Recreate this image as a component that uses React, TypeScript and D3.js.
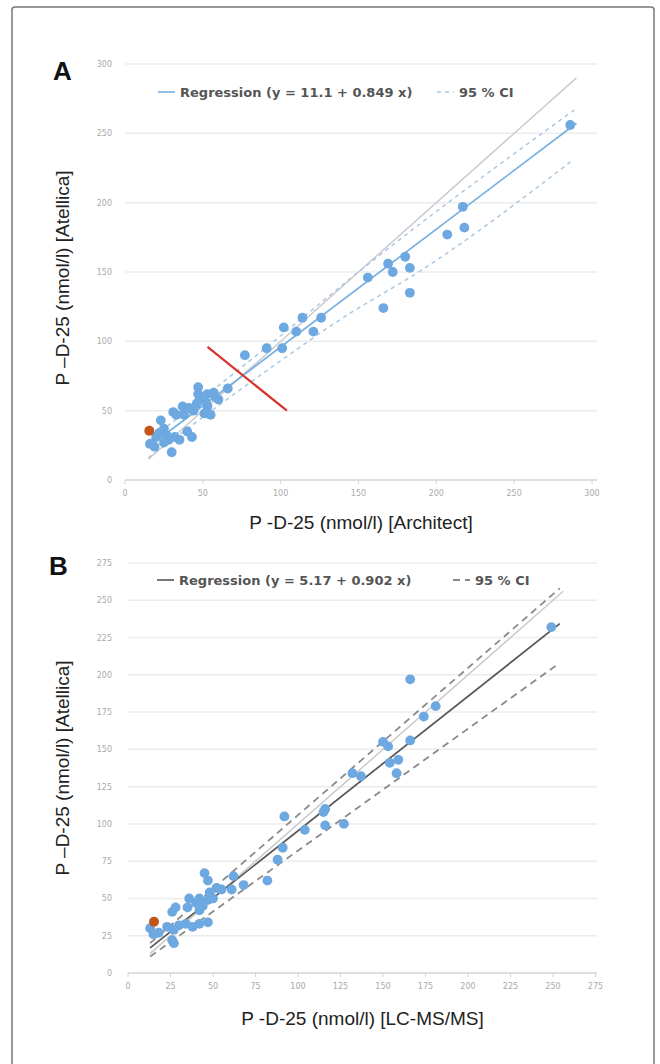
import React from 'react';
import * as d3 from 'd3';

// Panel A: Architect (x) vs Atellica (y)
const pointsA: [number, number][] = [
  [286, 256], [217, 197], [218, 182], [207, 177], [180, 161], [169, 156], [172, 150],
  [183, 153], [183, 135], [166, 124], [156, 146], [114, 117], [126, 117], [102, 110],
  [110, 107], [121, 107], [91, 95], [101, 95], [77, 90], [66, 66], [60, 58], [47, 67],
  [47, 62], [53, 62], [57, 63], [48, 58], [52, 56], [53, 53], [51, 48], [55, 47],
  [46, 55], [41, 52], [37, 53], [38, 47], [31, 49], [33, 47], [43, 31], [35, 29],
  [28, 29], [30, 20], [23, 43], [25, 37], [22, 34], [20, 31], [27, 32], [16, 26],
  [19, 24], [25, 27], [32, 31], [40, 35], [58, 60], [44, 50],
];
const outlierA: [number, number] = [15.6, 35.5];
const regressionA: [number, number][] = [[15, 23.8], [290, 257.3]];
const identityA: [number, number][] = [[15, 15], [290, 290]];
const ciUpperA: [number, number][] = [[15, 28], [100, 104], [150, 150], [290, 268]];
const ciLowerA: [number, number][] = [[15, 16], [100, 86], [140, 117], [190, 151], [288, 231]];
const redLineA: [number, number][] = [[53, 96], [104, 50]];
const ticksA = [0, 50, 100, 150, 200, 250, 300];

// Panel B: LC-MS/MS (x) vs Atellica (y)
const pointsB: [number, number][] = [
  [249, 232], [166, 197], [181, 179], [174, 172], [166, 156], [150, 155], [153, 152],
  [154, 141], [159, 143], [158, 134], [132, 134], [137, 132], [116, 110], [115, 108],
  [92, 105], [116, 99], [127, 100], [104, 96], [91, 84], [88, 76], [82, 62], [68, 59],
  [62, 65], [61, 56], [55, 56], [52, 57], [45, 67], [47, 62], [48, 54], [50, 50],
  [47, 49], [42, 50], [40, 47], [36, 50], [35, 44], [28, 44], [26, 41], [42, 42],
  [44, 45], [47, 34], [42, 33], [38, 31], [34, 33], [30, 32], [27, 29], [23, 31],
  [26, 22], [27, 20], [13, 30], [15, 26], [18, 27],
];
const outlierB: [number, number] = [15.3, 34.4];
const regressionB: [number, number][] = [[13, 16.9], [254, 234.3]];
const identityB: [number, number][] = [[13, 13], [256, 256]];
const ciUpperB: [number, number][] = [[13, 20], [254, 258]];
const ciLowerB: [number, number][] = [[13, 11], [254, 208]];
const ticksB = [0, 25, 50, 75, 100, 125, 150, 175, 200, 225, 250, 275];

const POINT = '#6ea8e0';
const ORANGE = '#c0561c';

type PanelProps = {
  letter: string;
  letterPos: [number, number];
  xRange: [number, number];
  yRange: [number, number];
  domainMax: number;
  ticks: number[];
  points: [number, number][];
  outlier: [number, number];
  regression: [number, number][];
  identity: [number, number][];
  ciUpper: [number, number][];
  ciLower: [number, number][];
  regColor: string;
  ciColor: string;
  ciDash: string;
  ciWidth: number;
  legendText: string;
  legendY: number;
  legendX: number;
  ciLegendX: number;
  xTitle: string;
  xTitleY: number;
  yTitleY: number;
  redLine?: [number, number][];
};

function Panel(p: PanelProps) {
  const x = d3.scaleLinear().domain([0, p.domainMax]).range(p.xRange);
  const y = d3.scaleLinear().domain([0, p.domainMax]).range(p.yRange);
  const line = d3.line<[number, number]>().x(d => x(d[0])).y(d => y(d[1]));
  const curve = d3.line<[number, number]>().x(d => x(d[0])).y(d => y(d[1])).curve(d3.curveMonotoneX);
  const gridEnd = 597;
  return (
    <g>
      <text x={p.letterPos[0]} y={p.letterPos[1]} fontFamily="Liberation Sans, Arial, sans-serif"
        fontWeight="bold" fontSize={26} fill="#111">{p.letter}</text>
      {p.ticks.map(t => (
        <g key={t}>
          <line x1={x(0)} x2={gridEnd} y1={y(t)} y2={y(t)} stroke={t === 0 ? '#d4d4d4' : '#ececec'} strokeWidth={1.5} />
          <text x={112} y={y(t) + 3} textAnchor="end" fontFamily="DejaVu Sans, sans-serif" fontSize={8} fill="#aaa">{t}</text>
          <line x1={x(t)} x2={x(t)} y1={y(0)} y2={y(0) + 4} stroke="#d4d4d4" />
          <text x={x(t)} y={y(0) + 16} textAnchor="middle" fontFamily="DejaVu Sans, sans-serif" fontSize={8} fill="#aaa">{t}</text>
        </g>
      ))}
      <path d={line(p.identity) || ''} stroke="#c8c8c8" strokeWidth={1.4} fill="none" />
      <path d={curve(p.ciUpper) || ''} stroke={p.ciColor} strokeWidth={p.ciWidth} strokeDasharray={p.ciDash} fill="none" />
      <path d={curve(p.ciLower) || ''} stroke={p.ciColor} strokeWidth={p.ciWidth} strokeDasharray={p.ciDash} fill="none" />
      <path d={line(p.regression) || ''} stroke={p.regColor} strokeWidth={1.7} fill="none" />
      {p.points.map((d, i) => (
        <circle key={i} cx={x(d[0])} cy={y(d[1])} r={4.9} fill={POINT} />
      ))}
      <circle cx={x(p.outlier[0])} cy={y(p.outlier[1])} r={5} fill={ORANGE} />
      {p.redLine && <path d={line(p.redLine) || ''} stroke="#d9302a" strokeWidth={2.2} fill="none" />}
      {/* legend */}
      <line x1={p.legendX} x2={p.legendX + 17} y1={p.legendY} y2={p.legendY} stroke={p.regColor} strokeWidth={1.6} />
      <text x={p.legendX + 22} y={p.legendY + 4.5} fontFamily="DejaVu Sans, sans-serif" fontWeight="bold" fontSize={13} fill="#555">{p.legendText}</text>
      <line x1={p.ciLegendX} x2={p.ciLegendX + 17} y1={p.legendY} y2={p.legendY} stroke={p.ciColor} strokeWidth={p.ciWidth} strokeDasharray={p.ciDash} />
      <text x={p.ciLegendX + 22} y={p.legendY + 4.5} fontFamily="DejaVu Sans, sans-serif" fontWeight="bold" fontSize={13} fill="#555">95 % CI</text>
      {/* titles */}
      <text x={(p.xRange[0] + gridEnd) / 2} y={p.xTitleY} textAnchor="middle" fontFamily="Liberation Sans, Arial, sans-serif" fontSize={19} fill="#222">{p.xTitle}</text>
      <text transform={`translate(69,${p.yTitleY}) rotate(-90)`} textAnchor="middle" fontFamily="Liberation Sans, Arial, sans-serif" fontSize={19} fill="#222">P –D-25 (nmol/l) [Atellica]</text>
    </g>
  );
}

export default function App() {
  return (
    <div style={{ position: 'absolute', left: 0, top: 0 }}>
      <svg width={660} height={1064} style={{ display: 'block', background: '#fff' }}>
        <rect x={12} y={7} width={642} height={1080} rx={3} fill="#fff" stroke="#777" strokeWidth={1.5} />
        <Panel
          letter="A" letterPos={[53, 80]}
          xRange={[125, 592]} yRange={[480, 64]} domainMax={300} ticks={ticksA}
          points={pointsA} outlier={outlierA} regression={regressionA} identity={identityA}
          ciUpper={ciUpperA} ciLower={ciLowerA}
          regColor="#78b0e2" ciColor="#a8c8e4" ciDash="4,4" ciWidth={1.5}
          legendText="Regression (y = 11.1 + 0.849 x)" legendY={92} legendX={158} ciLegendX={437}
          xTitle="P -D-25 (nmol/l) [Architect]" xTitleY={529} yTitleY={278}
          redLine={redLineA}
        />
        <Panel
          letter="B" letterPos={[49, 575]}
          xRange={[128, 595.5]} yRange={[973, 563]} domainMax={275} ticks={ticksB}
          points={pointsB} outlier={outlierB} regression={regressionB} identity={identityB}
          ciUpper={ciUpperB} ciLower={ciLowerB}
          regColor="#555" ciColor="#8a8a8a" ciDash="7,5" ciWidth={1.8}
          legendText="Regression (y = 5.17 + 0.902 x)" legendY={580} legendX={157} ciLegendX={453}
          xTitle="P -D-25 (nmol/l) [LC-MS/MS]" xTitleY={1025} yTitleY={768}
        />
      </svg>
    </div>
  );
}
